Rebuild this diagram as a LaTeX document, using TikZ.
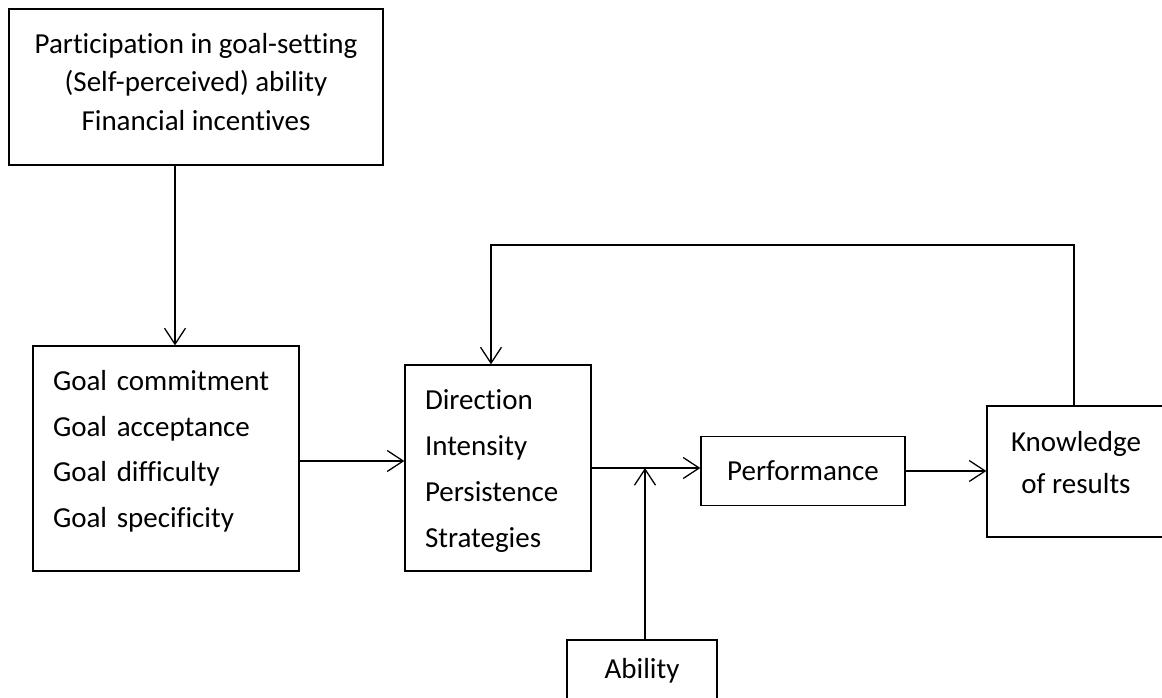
\documentclass[tikz,border=0pt]{standalone}
\usepackage{fontspec}
\setmainfont[Ligatures=NoCommon]{Carlito}
\usetikzlibrary{arrows.meta}
\begin{document}
\begin{tikzpicture}[x=1pt,y=-1pt,
  box/.style={draw=black,line width=1.3pt,rectangle,inner sep=0pt,font=\fontsize{29}{38.5}\selectfont},
  lbox/.style={box,align=left,inner xsep=20pt,inner ysep=0pt,font=\fontsize{29}{45.8}\selectfont},
  arr/.style={draw=black,line width=1.3pt,-{Straight Barb[length=16pt,width=21pt,line width=1.3pt]}},
  con/.style={draw=black,line width=1.3pt}]
\useasboundingbox (0,0) rectangle (1162,698);
\node[box,align=center,minimum width=374pt,minimum height=156pt] (top) at (196,87)
  {Participation in goal-setting\\(Self-perceived) ability\\Financial incentives\rule[-11pt]{0pt}{0pt}};
\node[lbox,text width=226pt,minimum width=266pt,minimum height=225pt] (goal) at (166,458.5)
  {Goal commitment\\Goal acceptance\\Goal difficulty\\Goal specificity\rule[-19pt]{0pt}{0pt}};
\node[lbox,text width=146pt,minimum width=186pt,minimum height=206pt] (dir) at (498,468)
  {\rule{0pt}{26pt}Direction\\Intensity\\Persistence\\Strategies};
\node[box,minimum width=204pt,minimum height=69pt] (perf) at (803,471) {Performance};
\node[box,align=center,minimum width=178pt,minimum height=131pt,font=\fontsize{29}{42}\selectfont] (know) at (1076,471.5)
  {Knowledge\\of results\rule[-19pt]{0pt}{0pt}};
\node[box,minimum width=150pt,minimum height=62pt] (abil) at (642,671) {Ability};
% connectors
\draw[arr] ([xshift=-21pt]top.south) -- ([xshift=9pt]goal.north);
\path (goal.east) ++(0,2.5) coordinate (g1);
\draw[arr] (g1) -- (g1 -| dir.west);
\draw[arr] (dir.east) -- (dir.east -| perf.west);
\draw[arr] (perf.east) -- (perf.east -| know.west);
\coordinate (junc) at ([xshift=3pt]abil.north |- dir.east);
\draw[arr] ([xshift=3pt]abil.north) -- (junc);
\coordinate (fbr) at (1074,245);
\draw[arr] ([xshift=-2pt]know.north) -- (fbr) -| ([xshift=-7pt]dir.north);
\end{tikzpicture}
\end{document}
